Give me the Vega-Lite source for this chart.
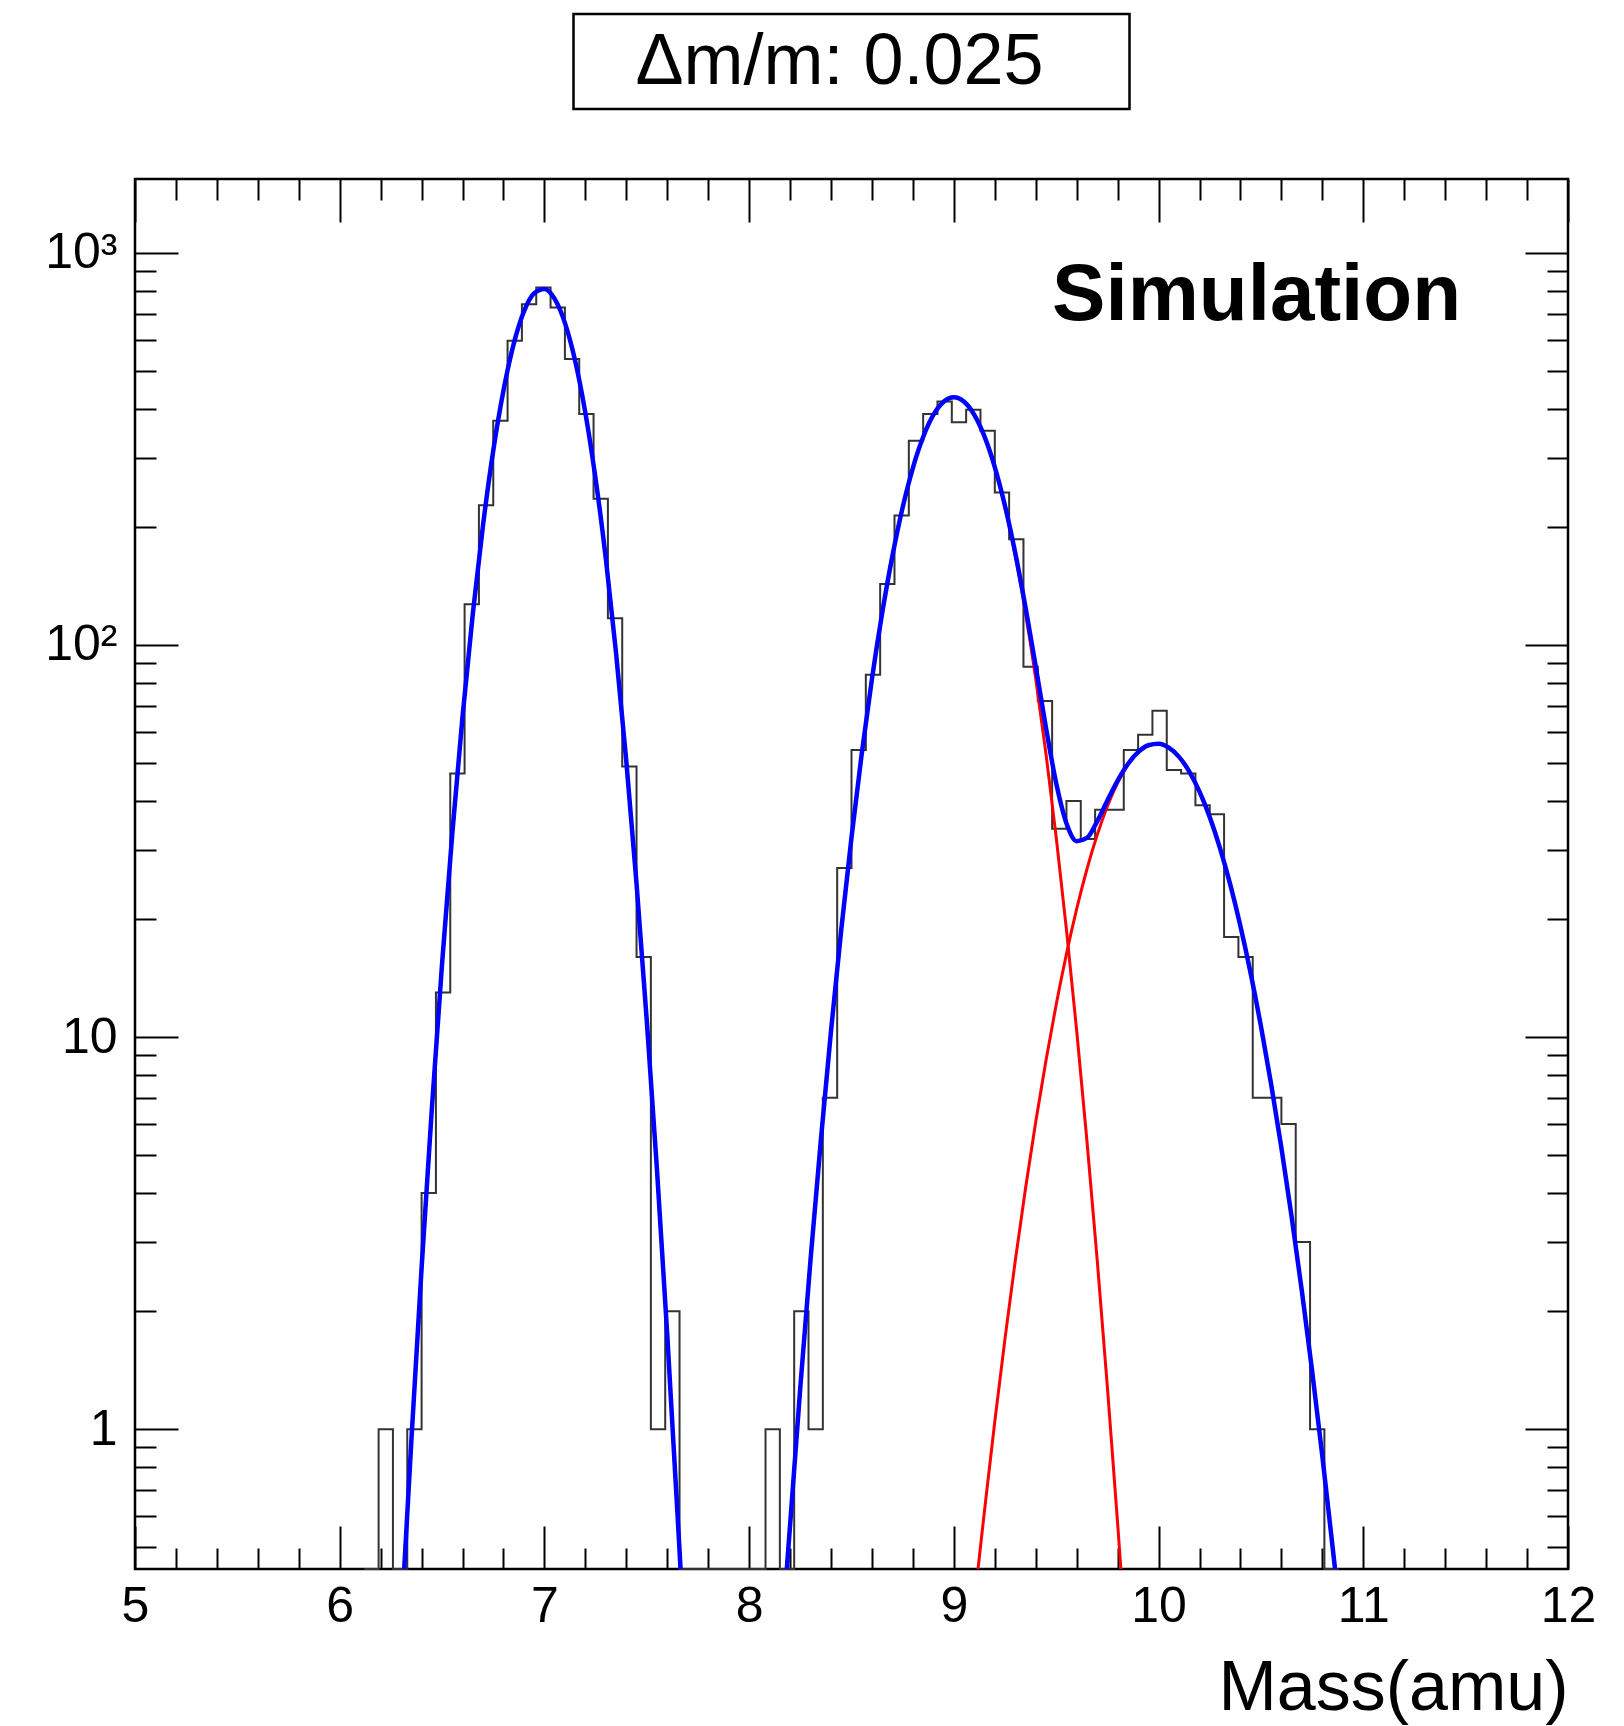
{
  "$schema": "https://vega.github.io/schema/vega-lite/v6.json",
  "background": "white",
  "padding": {"left": 43, "top": 12, "right": 20, "bottom": 8},
  "config": {
    "font": "Liberation Sans",
    "view": {"stroke": "black", "strokeWidth": 2.5},
    "axis": {"grid": false, "labelColor": "black", "tickColor": "black", "titleColor": "black", "labelFont": "Liberation Sans", "titleFont": "Liberation Sans", "tickWidth": 2, "labelFlush": false, "labelOverlap": false}
  },
  "datasets": {
    "hist": [
      {"mass": 6.12, "count": 0}, {"mass": 6.19, "count": 1}, {"mass": 6.26, "count": 0}, {"mass": 6.33, "count": 1},
      {"mass": 6.40, "count": 4}, {"mass": 6.47, "count": 13}, {"mass": 6.54, "count": 47}, {"mass": 6.61, "count": 127},
      {"mass": 6.68, "count": 227}, {"mass": 6.75, "count": 373}, {"mass": 6.82, "count": 597}, {"mass": 6.89, "count": 740},
      {"mass": 6.96, "count": 816}, {"mass": 7.03, "count": 726}, {"mass": 7.10, "count": 536}, {"mass": 7.17, "count": 388},
      {"mass": 7.24, "count": 236}, {"mass": 7.31, "count": 117}, {"mass": 7.38, "count": 49}, {"mass": 7.45, "count": 16},
      {"mass": 7.52, "count": 1}, {"mass": 7.59, "count": 2}, {"mass": 7.66, "count": 0}, {"mass": 7.73, "count": 0},
      {"mass": 7.80, "count": 0}, {"mass": 7.87, "count": 0}, {"mass": 7.94, "count": 0}, {"mass": 8.01, "count": 0},
      {"mass": 8.08, "count": 1}, {"mass": 8.15, "count": 0}, {"mass": 8.22, "count": 2}, {"mass": 8.29, "count": 1},
      {"mass": 8.36, "count": 7}, {"mass": 8.43, "count": 27}, {"mass": 8.50, "count": 54}, {"mass": 8.57, "count": 84},
      {"mass": 8.64, "count": 143}, {"mass": 8.71, "count": 214}, {"mass": 8.78, "count": 332}, {"mass": 8.85, "count": 388},
      {"mass": 8.92, "count": 418}, {"mass": 8.99, "count": 370}, {"mass": 9.06, "count": 398}, {"mass": 9.13, "count": 352},
      {"mass": 9.20, "count": 245}, {"mass": 9.27, "count": 186}, {"mass": 9.34, "count": 88}, {"mass": 9.41, "count": 72},
      {"mass": 9.48, "count": 34}, {"mass": 9.55, "count": 40}, {"mass": 9.62, "count": 32}, {"mass": 9.69, "count": 38},
      {"mass": 9.76, "count": 38}, {"mass": 9.83, "count": 54}, {"mass": 9.90, "count": 59}, {"mass": 9.97, "count": 68},
      {"mass": 10.04, "count": 48}, {"mass": 10.11, "count": 47}, {"mass": 10.18, "count": 39}, {"mass": 10.25, "count": 37},
      {"mass": 10.32, "count": 18}, {"mass": 10.39, "count": 16}, {"mass": 10.46, "count": 7}, {"mass": 10.53, "count": 7},
      {"mass": 10.60, "count": 6}, {"mass": 10.67, "count": 3}, {"mass": 10.74, "count": 1}, {"mass": 10.81, "count": 0},
      {"mass": 10.88, "count": 0}
    ],
    "g1": [
      {"mass": 6.315, "value": 0.44}, {"mass": 6.35, "value": 0.935}, {"mass": 6.40, "value": 2.58}, {"mass": 6.45, "value": 6.56},
      {"mass": 6.50, "value": 15.4}, {"mass": 6.55, "value": 33.1}, {"mass": 6.60, "value": 65.7}, {"mass": 6.65, "value": 120},
      {"mass": 6.70, "value": 202}, {"mass": 6.75, "value": 313}, {"mass": 6.80, "value": 446}, {"mass": 6.85, "value": 586},
      {"mass": 6.90, "value": 709}, {"mass": 6.95, "value": 789}, {"mass": 7.00, "value": 809}, {"mass": 7.05, "value": 763},
      {"mass": 7.10, "value": 663}, {"mass": 7.15, "value": 531}, {"mass": 7.20, "value": 391}, {"mass": 7.25, "value": 265},
      {"mass": 7.30, "value": 166}, {"mass": 7.35, "value": 95.3}, {"mass": 7.40, "value": 50.5}, {"mass": 7.45, "value": 24.6},
      {"mass": 7.50, "value": 11.0}, {"mass": 7.55, "value": 4.57}, {"mass": 7.60, "value": 1.74}, {"mass": 7.65, "value": 0.608},
      {"mass": 7.665, "value": 0.44}
    ],
    "g2": [
      {"mass": 8.184, "value": 0.44}, {"mass": 8.25, "value": 1.28}, {"mass": 8.30, "value": 2.71}, {"mass": 8.35, "value": 5.44},
      {"mass": 8.40, "value": 10.38}, {"mass": 8.45, "value": 18.8}, {"mass": 8.50, "value": 32.3}, {"mass": 8.55, "value": 52.8},
      {"mass": 8.60, "value": 82.0}, {"mass": 8.65, "value": 120.7}, {"mass": 8.70, "value": 168.9}, {"mass": 8.75, "value": 224.4},
      {"mass": 8.80, "value": 283.1}, {"mass": 8.85, "value": 339.2}, {"mass": 8.90, "value": 386.0}, {"mass": 8.95, "value": 417.1},
      {"mass": 9.00, "value": 428}, {"mass": 9.05, "value": 417.1}, {"mass": 9.10, "value": 386.0}, {"mass": 9.15, "value": 339.2},
      {"mass": 9.20, "value": 283.1}, {"mass": 9.25, "value": 224.4}, {"mass": 9.30, "value": 168.9}, {"mass": 9.35, "value": 120.7},
      {"mass": 9.40, "value": 82.0}, {"mass": 9.45, "value": 52.8}, {"mass": 9.50, "value": 32.3}, {"mass": 9.55, "value": 18.8},
      {"mass": 9.60, "value": 10.38}, {"mass": 9.65, "value": 5.44}, {"mass": 9.70, "value": 2.71}, {"mass": 9.75, "value": 1.28},
      {"mass": 9.80, "value": 0.575}, {"mass": 9.816, "value": 0.44}
    ],
    "g3": [
      {"mass": 9.118, "value": 0.44}, {"mass": 9.15, "value": 0.622}, {"mass": 9.20, "value": 1.046}, {"mass": 9.25, "value": 1.704},
      {"mass": 9.30, "value": 2.689}, {"mass": 9.35, "value": 4.11}, {"mass": 9.40, "value": 6.08}, {"mass": 9.45, "value": 8.72},
      {"mass": 9.50, "value": 12.11}, {"mass": 9.55, "value": 16.29}, {"mass": 9.60, "value": 21.23}, {"mass": 9.65, "value": 26.79},
      {"mass": 9.70, "value": 32.75}, {"mass": 9.75, "value": 38.79}, {"mass": 9.80, "value": 44.49}, {"mass": 9.85, "value": 49.42},
      {"mass": 9.90, "value": 53.18}, {"mass": 9.95, "value": 55.43}, {"mass": 10.00, "value": 55.96}, {"mass": 10.05, "value": 54.73},
      {"mass": 10.10, "value": 51.84}, {"mass": 10.15, "value": 47.56}, {"mass": 10.20, "value": 42.27}, {"mass": 10.25, "value": 36.39},
      {"mass": 10.30, "value": 30.34}, {"mass": 10.35, "value": 24.51}, {"mass": 10.40, "value": 19.17}, {"mass": 10.45, "value": 14.52},
      {"mass": 10.50, "value": 10.66}, {"mass": 10.55, "value": 7.58}, {"mass": 10.60, "value": 5.22}, {"mass": 10.65, "value": 3.48},
      {"mass": 10.70, "value": 2.25}, {"mass": 10.75, "value": 1.41}, {"mass": 10.80, "value": 0.853}, {"mass": 10.85, "value": 0.501},
      {"mass": 10.862, "value": 0.44}
    ],
    "total": [
      {"seg": "a", "mass": 6.315, "value": 0.44}, {"seg": "a", "mass": 6.35, "value": 0.935}, {"seg": "a", "mass": 6.40, "value": 2.58}, {"seg": "a", "mass": 6.45, "value": 6.56},
      {"seg": "a", "mass": 6.50, "value": 15.4}, {"seg": "a", "mass": 6.55, "value": 33.1}, {"seg": "a", "mass": 6.60, "value": 65.7}, {"seg": "a", "mass": 6.65, "value": 120},
      {"seg": "a", "mass": 6.70, "value": 202}, {"seg": "a", "mass": 6.75, "value": 313}, {"seg": "a", "mass": 6.80, "value": 446}, {"seg": "a", "mass": 6.85, "value": 586},
      {"seg": "a", "mass": 6.90, "value": 709}, {"seg": "a", "mass": 6.95, "value": 789}, {"seg": "a", "mass": 7.00, "value": 809}, {"seg": "a", "mass": 7.05, "value": 763},
      {"seg": "a", "mass": 7.10, "value": 663}, {"seg": "a", "mass": 7.15, "value": 531}, {"seg": "a", "mass": 7.20, "value": 391}, {"seg": "a", "mass": 7.25, "value": 265},
      {"seg": "a", "mass": 7.30, "value": 166}, {"seg": "a", "mass": 7.35, "value": 95.3}, {"seg": "a", "mass": 7.40, "value": 50.5}, {"seg": "a", "mass": 7.45, "value": 24.6},
      {"seg": "a", "mass": 7.50, "value": 11.0}, {"seg": "a", "mass": 7.55, "value": 4.57}, {"seg": "a", "mass": 7.60, "value": 1.74}, {"seg": "a", "mass": 7.65, "value": 0.608},
      {"seg": "a", "mass": 7.665, "value": 0.44},
      {"seg": "b", "mass": 8.184, "value": 0.44}, {"seg": "b", "mass": 8.25, "value": 1.28}, {"seg": "b", "mass": 8.30, "value": 2.71}, {"seg": "b", "mass": 8.35, "value": 5.44},
      {"seg": "b", "mass": 8.40, "value": 10.38}, {"seg": "b", "mass": 8.45, "value": 18.8}, {"seg": "b", "mass": 8.50, "value": 32.3}, {"seg": "b", "mass": 8.55, "value": 52.8},
      {"seg": "b", "mass": 8.60, "value": 82.0}, {"seg": "b", "mass": 8.65, "value": 120.7}, {"seg": "b", "mass": 8.70, "value": 168.9}, {"seg": "b", "mass": 8.75, "value": 224.4},
      {"seg": "b", "mass": 8.80, "value": 283.1}, {"seg": "b", "mass": 8.85, "value": 339.2}, {"seg": "b", "mass": 8.90, "value": 386.0}, {"seg": "b", "mass": 8.95, "value": 417.1},
      {"seg": "b", "mass": 9.00, "value": 428.1}, {"seg": "b", "mass": 9.05, "value": 417.3}, {"seg": "b", "mass": 9.10, "value": 386.4}, {"seg": "b", "mass": 9.15, "value": 339.8},
      {"seg": "b", "mass": 9.20, "value": 284.2}, {"seg": "b", "mass": 9.25, "value": 226.1}, {"seg": "b", "mass": 9.30, "value": 171.6}, {"seg": "b", "mass": 9.35, "value": 124.8},
      {"seg": "b", "mass": 9.40, "value": 88.1}, {"seg": "b", "mass": 9.45, "value": 61.5}, {"seg": "b", "mass": 9.50, "value": 44.4}, {"seg": "b", "mass": 9.55, "value": 35.1},
      {"seg": "b", "mass": 9.60, "value": 31.6}, {"seg": "b", "mass": 9.65, "value": 32.2}, {"seg": "b", "mass": 9.70, "value": 35.5}, {"seg": "b", "mass": 9.75, "value": 40.1},
      {"seg": "b", "mass": 9.80, "value": 45.1}, {"seg": "b", "mass": 9.85, "value": 49.7}, {"seg": "b", "mass": 9.90, "value": 53.3}, {"seg": "b", "mass": 9.95, "value": 55.5},
      {"seg": "b", "mass": 10.00, "value": 56.0}, {"seg": "b", "mass": 10.05, "value": 54.73}, {"seg": "b", "mass": 10.10, "value": 51.84}, {"seg": "b", "mass": 10.15, "value": 47.56},
      {"seg": "b", "mass": 10.20, "value": 42.27}, {"seg": "b", "mass": 10.25, "value": 36.39}, {"seg": "b", "mass": 10.30, "value": 30.34}, {"seg": "b", "mass": 10.35, "value": 24.51},
      {"seg": "b", "mass": 10.40, "value": 19.17}, {"seg": "b", "mass": 10.45, "value": 14.52}, {"seg": "b", "mass": 10.50, "value": 10.66}, {"seg": "b", "mass": 10.55, "value": 7.58},
      {"seg": "b", "mass": 10.60, "value": 5.22}, {"seg": "b", "mass": 10.65, "value": 3.48}, {"seg": "b", "mass": 10.70, "value": 2.25}, {"seg": "b", "mass": 10.75, "value": 1.41},
      {"seg": "b", "mass": 10.80, "value": 0.853}, {"seg": "b", "mass": 10.85, "value": 0.501}, {"seg": "b", "mass": 10.862, "value": 0.44}
    ]
  },
  "spacing": 70,
  "center": true,
  "bounds": "flush",
  "vconcat": [
    {
      "width": 556,
      "height": 95,
      "view": {"stroke": "black", "strokeWidth": 2.5, "fill": "white"},
      "data": {"values": [{"label": "Δm/m: 0.025"}]},
      "mark": {"type": "text", "fontSize": 72, "dx": -12, "baseline": "middle", "align": "center", "color": "black", "font": "Liberation Sans"},
      "encoding": {
        "x": {"datum": 0, "type": "quantitative", "scale": {"domain": [-1, 1]}, "axis": null},
        "y": {"datum": 0, "type": "quantitative", "scale": {"domain": [-1, 1]}, "axis": null},
        "text": {"field": "label"}
      }
    },
    {
      "width": 1433,
      "height": 1390,
      "resolve": {"axis": {"x": "independent", "y": "independent"}},
      "layer": [
        {
          "data": {"name": "hist"},
          "mark": {"type": "line", "interpolate": "step-after", "color": "#333333", "strokeWidth": 2},
          "encoding": {
            "x": {"field": "mass", "type": "quantitative", "scale": {"domain": [5, 12], "nice": false, "zero": false},
              "axis": {"orient": "bottom", "values": [5, 6, 7, 8, 9, 10, 11, 12], "format": "d", "ticks": false, "domain": false, "labelFontSize": 50, "labelPadding": 12, "title": "Mass(amu)", "titleFontSize": 70, "titleFontWeight": "normal", "titleAnchor": "end", "titleAlign": "right", "titlePadding": 23}},
            "y": {"field": "count", "type": "quantitative", "scale": {"type": "log", "domain": [0.44, 1543], "nice": false, "clamp": true},
              "axis": {"orient": "left", "values": [1, 10, 100, 1000], "labelExpr": "datum.value > 500 ? '10³' : datum.value > 50 ? '10²' : datum.value > 5 ? '10' : '1'", "ticks": false, "domain": false, "labelFontSize": 50, "labelPadding": 18, "title": null}}
          }
        },
        {
          "data": {"name": "g1"},
          "mark": {"type": "line", "interpolate": "monotone", "color": "#ff0000", "strokeWidth": 3},
          "encoding": {
            "x": {"field": "mass", "type": "quantitative", "scale": {"domain": [5, 12], "nice": false, "zero": false},
              "axis": {"orient": "bottom", "values": [5, 6, 7, 8, 9, 10, 11, 12], "labels": false, "domain": false, "tickSize": -43, "title": null}},
            "y": {"field": "value", "type": "quantitative", "scale": {"type": "log", "domain": [0.44, 1543], "nice": false, "clamp": true},
              "axis": {"orient": "left", "values": [1, 10, 100, 1000], "labels": false, "domain": false, "tickSize": -43, "title": null}}
          }
        },
        {
          "data": {"name": "g2"},
          "mark": {"type": "line", "interpolate": "monotone", "color": "#ff0000", "strokeWidth": 3},
          "encoding": {
            "x": {"field": "mass", "type": "quantitative", "scale": {"domain": [5, 12], "nice": false, "zero": false},
              "axis": {"orient": "bottom", "values": [5.2, 5.4, 5.6, 5.8, 6.2, 6.4, 6.6, 6.8, 7.2, 7.4, 7.6, 7.8, 8.2, 8.4, 8.6, 8.8, 9.2, 9.4, 9.6, 9.8, 10.2, 10.4, 10.6, 10.8, 11.2, 11.4, 11.6, 11.8], "labels": false, "domain": false, "tickSize": -21, "title": null}},
            "y": {"field": "value", "type": "quantitative", "scale": {"type": "log", "domain": [0.44, 1543], "nice": false, "clamp": true},
              "axis": {"orient": "left", "values": [0.5, 0.6, 0.7, 0.8, 0.9, 2, 3, 4, 5, 6, 7, 8, 9, 20, 30, 40, 50, 60, 70, 80, 90, 200, 300, 400, 500, 600, 700, 800, 900], "labels": false, "domain": false, "tickSize": -21, "title": null}}
          }
        },
        {
          "data": {"name": "g3"},
          "mark": {"type": "line", "interpolate": "monotone", "color": "#ff0000", "strokeWidth": 3},
          "encoding": {
            "x": {"field": "mass", "type": "quantitative", "scale": {"domain": [5, 12], "nice": false, "zero": false},
              "axis": {"orient": "top", "values": [5, 6, 7, 8, 9, 10, 11, 12], "labels": false, "domain": false, "tickSize": -43, "title": null}},
            "y": {"field": "value", "type": "quantitative", "scale": {"type": "log", "domain": [0.44, 1543], "nice": false, "clamp": true},
              "axis": {"orient": "right", "values": [1, 10, 100, 1000], "labels": false, "domain": false, "tickSize": -43, "title": null}}
          }
        },
        {
          "data": {"name": "total"},
          "mark": {"type": "line", "interpolate": "monotone", "color": "#0000ff", "strokeWidth": 4.5},
          "encoding": {
            "detail": {"field": "seg"},
            "x": {"field": "mass", "type": "quantitative", "scale": {"domain": [5, 12], "nice": false, "zero": false},
              "axis": {"orient": "top", "values": [5.2, 5.4, 5.6, 5.8, 6.2, 6.4, 6.6, 6.8, 7.2, 7.4, 7.6, 7.8, 8.2, 8.4, 8.6, 8.8, 9.2, 9.4, 9.6, 9.8, 10.2, 10.4, 10.6, 10.8, 11.2, 11.4, 11.6, 11.8], "labels": false, "domain": false, "tickSize": -21, "title": null}},
            "y": {"field": "value", "type": "quantitative", "scale": {"type": "log", "domain": [0.44, 1543], "nice": false, "clamp": true},
              "axis": {"orient": "right", "values": [0.5, 0.6, 0.7, 0.8, 0.9, 2, 3, 4, 5, 6, 7, 8, 9, 20, 30, 40, 50, 60, 70, 80, 90, 200, 300, 400, 500, 600, 700, 800, 900], "labels": false, "domain": false, "tickSize": -21, "title": null}}
          }
        },
        {
          "data": {"values": [{"label": "Simulation"}]},
          "mark": {"type": "text", "fontSize": 80, "fontWeight": "bold", "align": "left", "baseline": "alphabetic", "color": "black", "font": "Liberation Sans"},
          "encoding": {
            "x": {"datum": 9.48, "type": "quantitative", "scale": {"domain": [5, 12], "nice": false, "zero": false}, "axis": null},
            "y": {"datum": 675, "type": "quantitative", "scale": {"type": "log", "domain": [0.44, 1543], "nice": false, "clamp": true}, "axis": null},
            "text": {"field": "label"}
          }
        }
      ]
    }
  ]
}
